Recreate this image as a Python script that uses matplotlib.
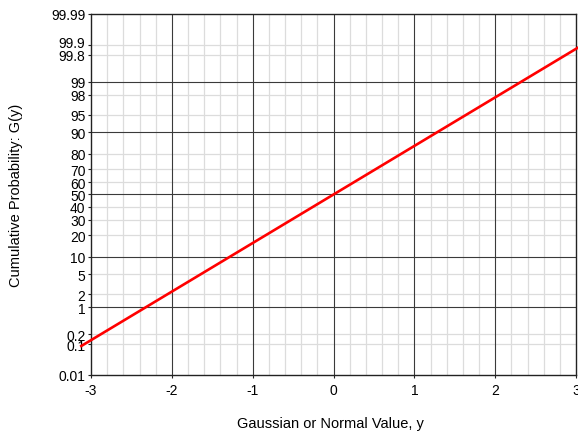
import math
import numpy as np
import matplotlib
matplotlib.use("Agg")
import matplotlib.pyplot as plt
import matplotlib.transforms as mtransforms

# data: the line G(y) on normal probability paper
y_vals = [-3.12, 3.12]
g_pct = [0.090, 99.910]

x_ticks = [-3, -2, -1, 0, 1, 2, 3]
p_ticks = [0.01, 0.1, 0.2, 1, 2, 5, 10, 20, 30, 40, 50, 60, 70, 80, 90, 95, 98, 99, 99.8, 99.9, 99.99]
p_labels = ["0.01", "0.1", "0.2", "1", "2", "5", "10", "20", "30", "40", "50",
            "60", "70", "80", "90", "95", "98", "99", "99.8", "99.9", "99.99"]
p_major = [1, 10, 50, 90, 99]
p_minor = [0.1, 0.2, 2, 5, 20, 30, 40, 60, 70, 80, 95, 98, 99.8, 99.9]


def _cdf(z):
    return 0.5 * (1 + math.erf(z / math.sqrt(2)))


def _ppf(p):
    # bisection on the normal cdf
    lo, hi = -12.0, 12.0
    for _ in range(80):
        mid = 0.5 * (lo + hi)
        if _cdf(mid) < p:
            lo = mid
        else:
            hi = mid
    return 0.5 * (lo + hi)


def forward(p):
    p = np.clip(np.asarray(p, dtype=float) / 100.0, 1e-12, 1 - 1e-12)
    return np.vectorize(_ppf, otypes=[float])(p)


def inverse(z):
    z = np.asarray(z, dtype=float)
    return 100.0 * np.vectorize(_cdf, otypes=[float])(z)


plt.rcParams['font.family'] = ['Liberation Sans', 'DejaVu Sans']

fig = plt.figure(figsize=(5.78, 4.35), dpi=100)
ax = fig.add_axes([91 / 578, 59 / 435, 485 / 578, 361 / 435])
ax.set_yscale('function', functions=(forward, inverse))
ax.set_xlim(-3, 3)
ax.set_ylim(0.01, 99.99)

# grid
for xv in np.arange(-3, 3.01, 0.2):
    if abs(xv - round(xv)) < 1e-6:
        continue
    ax.axvline(xv, color='#dcdcdc', lw=0.9, zorder=1)
for p in p_minor:
    ax.axhline(p, color='#dcdcdc', lw=0.9, zorder=1)
for xv in [-2, -1, 0, 1, 2]:
    ax.axvline(xv, color='#3a3a3a', lw=0.8, zorder=2)
for p in p_major:
    ax.axhline(p, color='#3a3a3a', lw=0.8, zorder=2)

ax.plot(y_vals, g_pct, color='red', lw=1.9, clip_on=False, zorder=5)

ax.set_xticks(x_ticks)
ax.set_xticklabels([str(v) for v in x_ticks])
ax.set_yticks(p_ticks)
ax.set_yticklabels(p_labels)
ax.minorticks_off()
ax.tick_params(axis='both', labelsize=10, length=2.5, width=0.8, color='#222222')
ax.tick_params(axis='x', pad=3)
ax.tick_params(axis='y', pad=1.5)
for s in ax.spines.values():
    s.set_color('#222222')
    s.set_linewidth(1.0)

# nudge the crowded 99.9 label up a little, like the reference
for lab in ax.get_yticklabels():
    if lab.get_text() == "99.9":
        lab.set_transform(lab.get_transform() +
                          mtransforms.ScaledTranslation(0, 3 / 100, fig.dpi_scale_trans))

ax.set_xlabel("Gaussian or Normal Value, y", fontsize=10.5)
ax.set_ylabel("Cumulative Probability: G(y)", fontsize=10.5, labelpad=20)
ax.xaxis.set_label_coords(0.493, -0.113)

fig.savefig("out.png", dpi=100)
